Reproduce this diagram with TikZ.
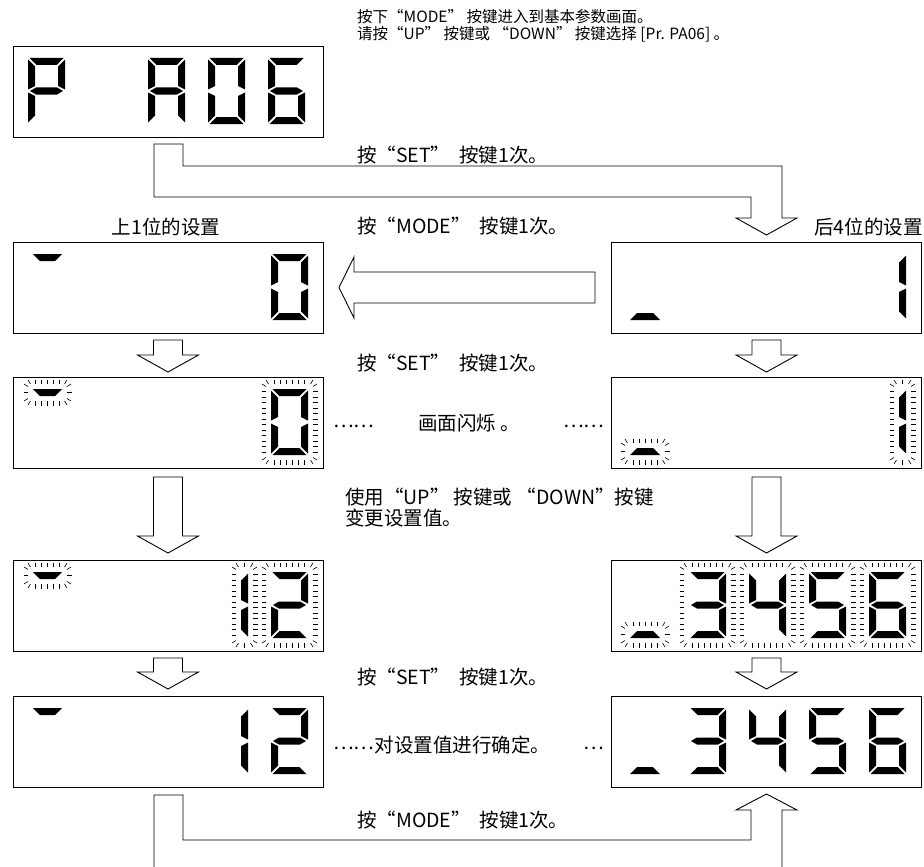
\documentclass[tikz,border=0pt]{standalone}
\usepackage{fontspec}
\newfontfamily\cjk{Noto Sans CJK SC}
% seven segment pieces (cell 37 x 66, origin top-left, y down)
\newcommand\SEGa{\fill (1.5,0) -- (35.5,0) -- (28.5,7) -- (8.5,7) -- cycle;}
\newcommand\SEGb{\fill (37,1.5) -- (37,31.5) -- (30,28) -- (30,8.5) -- cycle;}
\newcommand\SEGf{\fill (0,1.5) -- (7,8.5) -- (7,28) -- (0,31.5) -- cycle;}
\newcommand\SEGg{\fill (2,33) -- (8,29.5) -- (29,29.5) -- (35,33) -- (29,36.5) -- (8,36.5) -- cycle;}
\newcommand\SEGe{\fill (0,34.5) -- (7,38) -- (7,57.5) -- (0,64.5) -- cycle;}
\newcommand\SEGc{\fill (37,34.5) -- (30,38) -- (30,57.5) -- (37,64.5) -- cycle;}
\newcommand\SEGd{\fill (1.5,66) -- (35.5,66) -- (28.5,59) -- (8.5,59) -- cycle;}
\newcommand{\segdig}[3]{\begin{scope}[shift={(#1,#2)}]\foreach \s in {#3}{\csname SEG\s\endcsname}\end{scope}}
\newcommand{\topseg}[1]{\fill (33,#1) -- (62,#1) -- (55,{#1+7}) -- (40,{#1+7}) -- cycle;}
\newcommand{\botseg}[1]{\fill (637,#1) -- (653,#1) -- (660,{#1+7}) -- (630,{#1+7}) -- cycle;}
% flashing rays around a rectangle
\newcommand{\flash}[4]{%
  \pgfmathsetmacro\fw{#3-(#1)}%
  \pgfmathsetmacro\fh{#4-(#2)}%
  \pgfmathtruncatemacro\fnx{floor((\fw-4)/6)}%
  \pgfmathsetmacro\fox{(\fw-6*\fnx)/2}%
  \pgfmathtruncatemacro\fny{floor((\fh-4)/5.5)}%
  \pgfmathsetmacro\foy{(\fh-5.5*\fny)/2}%
  \foreach \i in {0,...,\fnx}{%
    \draw[ray] ({#1+\fox+6*\i},{#2-9.5}) -- ++(0,4.5);
    \draw[ray] ({#1+\fox+6*\i},{#4+5}) -- ++(0,4.5);}%
  \foreach \j in {0,...,\fny}{%
    \draw[ray] ({#1-9.5},{#2+\foy+5.5*\j}) -- ++(4.5,0);
    \draw[ray] ({#3+5},{#2+\foy+5.5*\j}) -- ++(4.5,0);}%
  \draw[ray] ({#1-2.5},{#2-5}) -- ++(-2.5,-4);
  \draw[ray] ({#1-5},{#2-2.5}) -- ++(-4,-2.5);
  \draw[ray] ({#3+2.5},{#2-5}) -- ++(2.5,-4);
  \draw[ray] ({#3+5},{#2-2.5}) -- ++(4,-2.5);
  \draw[ray] ({#1-2.5},{#4+5}) -- ++(-2.5,4);
  \draw[ray] ({#1-5},{#4+2.5}) -- ++(-4,2.5);
  \draw[ray] ({#3+2.5},{#4+5}) -- ++(2.5,4);
  \draw[ray] ({#3+5},{#4+2.5}) -- ++(4,2.5);
}
\newcommand{\fdig}[3]{\segdig{#1}{#2}{#3}\flash{#1}{#2}{#1+37}{#2+66}}
\newcommand{\fone}[2]{\segdig{#1}{#2}{b,c}\flash{#1+30}{#2}{#1+37}{#2+66}}
\begin{document}
\begin{tikzpicture}[x=1pt,y=-1pt,
  disp/.style={draw, line width=1.1pt, minimum width=310pt, minimum height=91pt, anchor=north west, inner sep=0pt},
  hol/.style={draw, line width=0.9pt, fill=white, line join=miter},
  ray/.style={line width=0.6pt},
  txt/.style={font=\cjk\fontsize{19.5}{21}\selectfont, inner sep=0pt, anchor=west},
  txts/.style={font=\cjk\fontsize{15.5}{17}\selectfont, inner sep=0pt, anchor=west}]
\fill[white] (0,0) rectangle (924,867);
\useasboundingbox (0,0) rectangle (924,867);

% boxes
\node[disp] (b0) at (13,46) {};
\node[disp] (b2l) at (13,242) {};
\node[disp] (b2r) at (611,242) {};
\node[disp] (b3l) at (13,377) {};
\node[disp] (b3r) at (611,377) {};
\node[disp] (b4l) at (13,560) {};
\node[disp] (b4r) at (611,560) {};
\node[disp] (b5l) at (13,696) {};
\node[disp] (b5r) at (611,696) {};

% top connector (hollow band arrow)
\draw[hol] (154,144) -- (183,144) -- (183,166) -- (782,166) -- (782,218) -- (797,218)
  -- (766.5,235) -- (736,218) -- (751,218) -- (751,197) -- (154,197) -- cycle;
% big left arrow
\draw[hol] (595,272) -- (354,272) -- (354,257) -- (339,287.5) -- (354,318) -- (354,303) -- (595,303) -- cycle;
% small / long down arrows
\foreach \cx/\ya/\yb in {168/340/372, 766.5/340/372, 168/477/553, 766.5/477/553, 168/658/689, 766.5/658/689}{
  \draw[hol] ({\cx-14.5},\ya) -- ({\cx+14.5},\ya) -- ({\cx+14.5},{\yb-17}) -- ({\cx+30.5},{\yb-17})
    -- (\cx,\yb) -- ({\cx-30.5},{\yb-17}) -- ({\cx-14.5},{\yb-17}) -- cycle;}
% bottom connector
\draw[line width=0.9pt, line join=miter] (154,870) -- (154,795) -- (183,795) -- (183,840) -- (751,840) -- (751,810)
  -- (736,810) -- (766.5,794) -- (797,810) -- (782,810) -- (782,870);

% row 0 : P  A06
\segdig{28}{58}{a,b,f,g,e}
\segdig{148}{58}{a,b,c,e,f,g}
\segdig{208}{58}{a,b,c,d,e,f}
\segdig{268}{58}{a,f,g,e,c,d}
% row 2
\topseg{254}
\segdig{271}{254}{a,b,c,d,e,f}
\botseg{313}
\segdig{869}{254}{b,c}
% row 3 (flashing)
\topseg{389}\flash{33}{389}{62}{396}
\fdig{271}{389}{a,b,c,d,e,f}
\botseg{448}\flash{630}{448}{660}{455}
\fone{869}{389}
% row 4 (flashing)
\topseg{572}\flash{33}{572}{62}{579}
\fone{211}{572}
\fdig{271}{572}{a,b,g,e,d}
\botseg{631}\flash{630}{631}{660}{638}
\fdig{689}{572}{a,b,g,c,d}
\fdig{749}{572}{f,b,g,c}
\fdig{809}{572}{a,f,g,c,d}
\fdig{869}{572}{a,f,g,e,c,d}
% row 5
\topseg{708}
\segdig{211}{708}{b,c}
\segdig{271}{708}{a,b,g,e,d}
\botseg{767}
\segdig{689}{708}{a,b,g,c,d}
\segdig{749}{708}{f,b,g,c}
\segdig{809}{708}{a,f,g,c,d}
\segdig{869}{708}{a,f,g,e,c,d}

% texts
\node[txts] (t1) at (357,17) {按下“MODE” 按键进入到基本参数画面。};
\node[txts] (t2) at (357,34) {请按“UP” 按键或 “DOWN” 按键选择 [Pr. PA06] 。};
\node[txt] (t3) at (357,155) {按“SET”\ \ 按键1次。};
\node[txt, anchor=center] (t4) at (166,227) {上1位的设置};
\node[txt] (t5) at (357,226) {按“MODE”\ \ 按键1次。};
\node[txt, anchor=east] (t6) at (923,227) {后4位的设置};
\node[txt] (t7) at (357,363) {按“SET”\ \ 按键1次。};
\node[txt] (t8) at (333,426) {……};
\node[txt] (t9) at (418,423) {画面闪烁 。};
\node[txt] (t10) at (563,426) {……};
\node[txt] (t11) at (345,497) {使用“UP” 按键或 “DOWN”按键};
\node[txt] (t12) at (345,518) {变更设置值。};
\node[txt] (t13) at (357,677) {按“SET”\ \ 按键1次。};
\node[txt] (t14a) at (333,748) {……};
\node[txt, anchor=west] (t14) at (t14a.east |- 0,745) {对设置值进行确定。};
\node[txt] (t15) at (583,748) {…};
\node[txt] (t16) at (357,820) {按“MODE”\ \ 按键1次。};
\end{tikzpicture}
\end{document}
